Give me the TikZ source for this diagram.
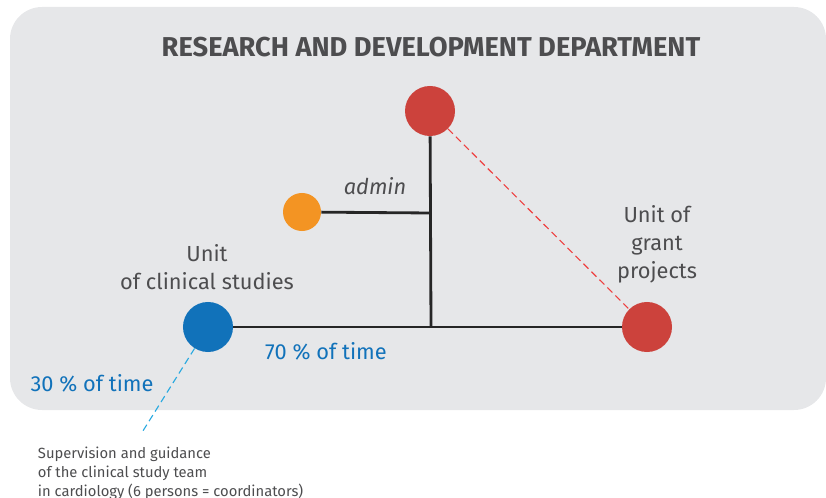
\documentclass[tikz,border=0pt]{standalone}
\usepackage{fontspec}
\setmainfont{Fira Sans}
\usepackage{tikz}

\definecolor{bggray}{HTML}{E6E7E9}
\definecolor{txtgray}{HTML}{4D4D4F}
\definecolor{unitred}{HTML}{CC423C}
\definecolor{dashred}{HTML}{EE4040}
\definecolor{adminorange}{HTML}{F39423}
\definecolor{unitblue}{HTML}{1172BA}
\definecolor{dashblue}{HTML}{29A9E0}

\tikzset{
  dot/.style={circle,fill=#1,inner sep=0pt,minimum size=1.25cm},
  label text/.style={text=txtgray,font=\fontsize{15.5}{19.9}\selectfont,align=center},
  time text/.style={text=unitblue,font=\fontsize{15.5}{19.9}\selectfont},
  tie/.style={line width=2pt,draw=black!85},
  dashline/.style={draw=#1,line width=0.8pt,dash pattern=on 5pt off 3pt}
}

\begin{document}
\begin{tikzpicture}[x=0.025cm,y=-0.025cm]
\useasboundingbox (0,0) rectangle (826,498);
\fill[bggray,rounded corners=0.8cm] (10,7) rectangle (826,410);

%title
\node[text=txtgray,font=\fontsize{19.4}{23}\bfseries] (title) at (431,47) {RESEARCH AND DEVELOPMENT DEPARTMENT};

%circles
\node[dot=unitred] (head) at (430,111) {};
\node[dot=adminorange,minimum size=0.95cm] (admin) at (302,212) {};
\node[dot=unitblue] (clinical) at (208,327) {};
\node[dot=unitred] (grant) at (647,327) {};
\coordinate (joint) at (431,327);
\coordinate (adminjoint) at (431,213);
\coordinate (note) at (141,434);

%lines
\draw[tie] (head) -- (joint);
\draw[tie] (admin) -- (adminjoint);
\draw[tie] (clinical) -- (grant);
\draw[dashline=dashred] (head) -- (grant);
\draw[dashline=dashblue] (clinical) -- (note);

%labels
\node[text=txtgray,font=\fontsize{15.5}{19.9}\itshape] (adminlbl) at (375,186) {admin};
\node[label text] (clinicallbl) at (207,267) {Unit\\of clinical studies};
\node[label text] (grantlbl) at (657,244) {Unit of\\grant\\projects};
\node[time text] (seventy) at (326,351) {70 \% of time};
\node[time text] (thirty) at (92,383) {30 \% of time};
\node[text=txtgray,font=\fontsize{10.5}{13.4}\selectfont,align=left,anchor=north west] (notelbl) at (33,442)
  {Supervision and guidance\\of the clinical study team\\in cardiology (6 persons = coordinators)};
\end{tikzpicture}
\end{document}
